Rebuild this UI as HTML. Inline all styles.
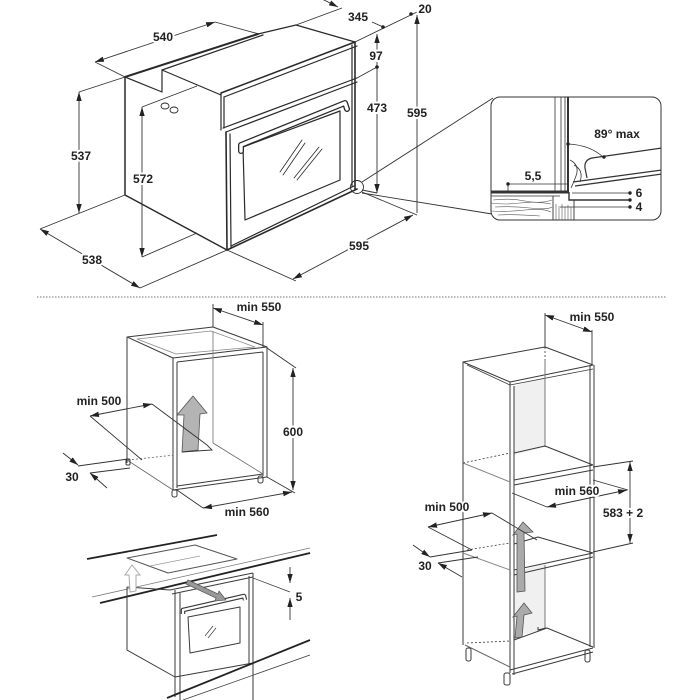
<!DOCTYPE html>
<html><head><meta charset="utf-8"><style>
html,body{margin:0;padding:0;background:#fff;}
svg{display:block;}
.t{font-family:"Liberation Sans",sans-serif;font-weight:bold;font-size:12px;fill:#222;text-anchor:middle;dominant-baseline:central;}
.h{stroke:#fff;stroke-width:4px;paint-order:stroke;stroke-linejoin:round;}
</style></head><body>
<svg width="700" height="700" viewBox="0 0 700 700" xmlns="http://www.w3.org/2000/svg">
<defs>
<marker id="ar" viewBox="0 0 10 6" refX="10" refY="3" markerWidth="9" markerHeight="5.5" markerUnits="userSpaceOnUse" orient="auto-start-reverse"><path d="M0,0L10,3L0,6z" fill="#222"/></marker>
<clipPath id="cb"><rect x="491" y="97" width="170" height="123" rx="9"/></clipPath>
</defs>
<rect width="700" height="700" fill="#fff"/>

<!-- ============ TOP: OVEN ============ -->
<g stroke="#2a2a2a" fill="none" stroke-width="1.2" stroke-linejoin="round" stroke-linecap="round">
 <path d="M125,77 L258,34" stroke-width="2"/>
 <path d="M162,70 L263,35"/>
 <path d="M258,34 L296,25 L355,42"/>
 <path d="M125,77 L162,92 L162,70 L221,95"/>
 <path d="M125,77 V195 L227,250" stroke-width="1.5"/>
 <!-- front panel -->
 <path d="M221,93 L355,42" stroke-width="1.6"/>
 <path d="M224,97 L357,46"/>
 <path d="M221,93 V130"/>
 <path d="M224,97 V128"/>
 <path d="M223,128 L357,78"/>
 <path d="M226,132 L357,82"/>
 <path d="M226,132 L227,250" stroke-width="1.6"/>
 <path d="M230,134 L231,247"/>
 <path d="M227,250 L357,189" stroke-width="1.6"/>
 <path d="M231,246 L354,186"/>
 <path d="M355,42 V189" stroke-width="1.6"/>
 <path d="M352,45 V186"/>
 <!-- window -->
 <path d="M243,147 L340,111 L340,180 L245,220 Z"/>
 <!-- reflections -->
 <g stroke-width="0.8"><path d="M280,172 L302,140"/><path d="M283,175 L305,143"/><path d="M294,178 L319,147"/><path d="M297,180 L322,149"/></g>
 <!-- handle -->
 <path d="M241,151 L241,145 L345,103 L347,109" stroke-width="6"/>
 <path d="M241,151 L241,145 L345,103 L347,109" stroke="#fff" stroke-width="3.4"/>
 <!-- vents -->
 <ellipse cx="165" cy="106" rx="4" ry="3" stroke-width="0.9"/>
 <ellipse cx="174" cy="110" rx="4" ry="3" stroke-width="0.9"/>
 <!-- small detail circle -->
 <circle cx="357" cy="187" r="6.5" stroke-width="0.9"/>
</g>

<!-- top dimensions -->
<g stroke="#333" fill="none" stroke-width="0.9">
 <!-- 540 -->
 <path d="M95,62 L215,22" marker-start="url(#ar)" marker-end="url(#ar)"/>
 <path d="M95,62 L125,77"/>
 <path d="M215,22 L259,34"/>
 <!-- 537 -->
 <path d="M79,92 V213" marker-start="url(#ar)" marker-end="url(#ar)"/>
 <path d="M79,92 L125,77"/>
 <!-- 538 -->
 <path d="M40,229 L125,195"/>
 <path d="M40,229 L140,288" marker-start="url(#ar)" marker-end="url(#ar)"/>
 <path d="M140,288 L227,250"/>
 <!-- 572 -->
 <path d="M142,107 V257" marker-start="url(#ar)" marker-end="url(#ar)"/>
 <path d="M142,107 L197,86"/>
 <path d="M142,257 L197,233"/>
 <!-- 595 bottom -->
 <path d="M227,250 L296,281"/>
 <path d="M293,279 L413,215" marker-start="url(#ar)" marker-end="url(#ar)"/>
 <path d="M362,192 L417,215"/>
 <!-- 595 vertical -->
 <path d="M417,15 V213" marker-start="url(#ar)"/>
 <!-- 20 / 345 -->
 <path d="M355,42 L417,12"/>
 <path d="M296,25 L342,8"/>
 <path d="M322,-1 L338,7" marker-end="url(#ar)"/>
 <path d="M372,22 L383,27"/>
 <!-- 97 / 473 -->
 <path d="M377,34 V193" marker-start="url(#ar)" marker-end="url(#ar)"/>
 <path d="M357,78 L377,67"/>
 <path d="M362,190 L377,193"/>
 <!-- leaders -->
 <path d="M362,182 L493,98"/>
 <path d="M362,193 L492,214"/>
</g>
<g fill="#222"><circle cx="383" cy="27" r="1.8"/><circle cx="411" cy="14" r="1.8"/><circle cx="377" cy="67" r="1.8"/></g>

<!-- detail box -->
<g clip-path="url(#cb)" fill="none" stroke="#333">
 <path d="M555,97 V192 M561,97 V192 M565,97 V192" stroke-width="0.8"/>
 <path d="M568,97 V192" stroke-width="2"/>
 <path d="M491,192 H569" stroke-width="3"/>
 <path d="M491,196 H560" stroke-width="0.8"/>
 <g stroke-width="0.6" stroke="#555">
  <path d="M493,200 Q510,198 525,201 T552,200"/>
  <path d="M491,203 Q505,205 520,203 T551,204"/>
  <path d="M495,207 Q512,206 530,208 T552,207"/>
  <path d="M491,211 Q508,212 525,210 T551,212"/>
  <path d="M498,215 Q515,214 540,216"/>
  <path d="M556,204 V220 M559,206 V220 M562,204 V220 M565,207 V220 M568,205 V220 M571,207 V220"/>
 </g>
 <path d="M553,196 V220 M574,200 V220" stroke-width="0.9"/>
 <path d="M569,192 V200 H630" stroke-width="1.4"/>
 <path d="M572,193 H630 M560,207 H630" stroke-width="0.8"/>
 <path d="M508,184 H568 M508,184 V192" stroke-width="0.8"/>
 <path d="M568,144 Q590,145 603,157" stroke-width="0.8"/>
 <!-- door -->
 <path d="M662,148 L592,158 Q584,160 585,168 L587,178" stroke-width="1.2"/>
 <path d="M573,182 L662,170" stroke-width="1.3"/>
 <path d="M575,186 L662,174" stroke-width="1.3"/>
 <path d="M570,160 Q580,165 576,176 Q573,184 571,188" stroke-width="0.8"/>
 <path d="M574,165 Q584,170 580,182" stroke-width="0.8"/>
</g>
<rect x="491" y="97" width="170" height="123" rx="9" fill="none" stroke="#333" stroke-width="1"/>
<g fill="#222"><circle cx="508" cy="184" r="1.7"/><circle cx="568" cy="144" r="1.7"/><circle cx="604" cy="157" r="1.7"/><circle cx="630" cy="193" r="1.7"/><circle cx="630" cy="200" r="1.7"/><circle cx="630" cy="207" r="1.7"/></g>

<!-- separator -->
<path d="M37,297 H667" stroke="#777" stroke-width="1" stroke-dasharray="1.5,1.5"/>

<!-- ============ BOTTOM-LEFT CABINET ============ -->
<g stroke="#3a3a3a" fill="none" stroke-width="1" stroke-linejoin="round">
 <path d="M127,337 L213,327 L267,347 L173,358 Z"/>
 <path d="M137,339 L211,331 L255,347 L176,354 Z" stroke="#888" stroke-width="0.7"/>
 <path d="M177,362 L263,352"/>
 <path d="M173,358 V490 M177,362 V488"/>
 <path d="M263,352 V476 M267,347 V477"/>
 <path d="M127,337 V463"/>
 <path d="M213,331 V443" stroke="#888"/>
 <path d="M173,490 L267,477 M177,486 L263,474"/>
 <path d="M127,460 L173,490" stroke="#666" stroke-width="0.8"/>
 <path d="M213,443 L263,474" stroke="#666" stroke-width="0.8"/>
 <path d="M128,460 L175,455" stroke="#666" stroke-width="0.8" stroke-dasharray="2,2"/>
 <rect x="126" y="459" width="4" height="6" rx="1"/>
 <rect x="172" y="490" width="5" height="7" rx="2"/>
 <rect x="258" y="476" width="5" height="7" rx="2"/>
</g>
<path d="M193,396 L177,415 L184,415 L182,452 L198,450 L200,414 L207,413 Z" fill="#b4b4b4" stroke="#555" stroke-width="0.8"/>
<g stroke="#333" fill="none" stroke-width="0.9">
 <!-- min 550 -->
 <path d="M213,304 V327 M263,322 V347"/>
 <path d="M213,308 L263,325" marker-start="url(#ar)" marker-end="url(#ar)"/>
 <!-- min 500 -->
 <path d="M90,416 L152,404" marker-start="url(#ar)" marker-end="url(#ar)"/>
 <path d="M152,404 L207,445 L212,450 L182,452"/>
 <path d="M90,416 L142,460"/>
 <!-- 30 -->
 <path d="M63,453 L78,465" marker-end="url(#ar)"/>
 <path d="M78,466 L128,459"/>
 <path d="M107,488 L90,473" marker-end="url(#ar)"/>
 <path d="M90,473 L130,468"/>
 <!-- 600 -->
 <path d="M267,348 L296,368"/>
 <path d="M293,368 V490" marker-start="url(#ar)" marker-end="url(#ar)"/>
 <!-- min 560 -->
 <path d="M177,490 L203,508 M267,477 L295,493"/>
 <path d="M203,508 L292,492" marker-start="url(#ar)" marker-end="url(#ar)"/>
</g>

<!-- ============ BOTTOM-LEFT BUILT-IN ============ -->
<g stroke="#3a3a3a" fill="none" stroke-width="1" stroke-linejoin="round">
 <path d="M87,559 L217,535" stroke-width="1.8" stroke="#222"/>
 <path d="M92,597 L310,548" stroke="#777" stroke-width="0.8"/>
 <path d="M100,603 L310,553" stroke-width="1.8" stroke="#222"/>
 <path d="M127,558 L195,545 L237,559 L168,573 Z" stroke="#555"/>
 <path d="M150,566 L200,556" stroke="#999" stroke-width="0.7"/>
 <path d="M127,587 L170,590"/>
 <path d="M127,587 V650 L175,677"/>
 <path d="M170,590 L253,573 M172,594 L253,577"/>
 <path d="M175,590 V697 M180,593 V700"/>
 <path d="M253,573 V700 M249,576 V664"/>
 <path d="M175,677 L253,663"/>
 <path d="M167,698 L310,640" stroke-width="1.8" stroke="#222"/>
 <path d="M183,700 L310,655" stroke-width="0.8"/>
 <path d="M253,578 L290,592" stroke-width="0.8"/>
 <path d="M188,617 L240,607 L240,643 L190,653 Z"/>
 <path d="M205,636 L213,626 M208,638 L216,628" stroke-width="0.7"/>
 <path d="M183,614 L183,610 L244,596 L245,600" stroke-width="4.5"/>
 <path d="M183,614 L183,610 L244,596 L245,600" stroke="#fff" stroke-width="2.2"/>
</g>
<path d="M132,565 L125,575 L129,575 L130,592 L136,591 L136,575 L140,575 Z" fill="#fff" stroke="#aaa" stroke-width="1"/>
<path d="M188,580 L218,594 L219,591 L226,600 L215,601 L216,598 L186,584 Z" fill="#999" stroke="#555" stroke-width="0.7"/>
<g stroke="#333" fill="none" stroke-width="0.9">
 <path d="M290,567 V583" marker-end="url(#ar)"/>
 <path d="M290,620 V598" marker-end="url(#ar)"/>
</g>

<!-- ============ RIGHT TALL CABINET ============ -->
<path d="M514,386 L545,377 L545,447 L514,455 Z" fill="#f0f0f0"/>
<path d="M514,572 L545,564 L545,628 L514,638 Z" fill="#f0f0f0"/>
<g stroke="#3a3a3a" fill="none" stroke-width="1" stroke-linejoin="round">
 <path d="M463,362 L545,347 L593,365 L510,382 Z"/>
 <path d="M467,365 L510,385 L593,369" stroke-width="0.8"/>
 <path d="M545,347 V360" stroke-dasharray="2,2" stroke-width="0.8"/>
 <path d="M510,382 V673 M514,386 V675"/>
 <path d="M590,366 V647 M594,365 V648"/>
 <path d="M463,362 V645"/>
 <path d="M545,360 V447 M545,565 V628" stroke="#777"/>
 <!-- upper shelf -->
 <path d="M463,463 L510,482" stroke="#888"/>
 <path d="M463,463 L510,453" stroke-dasharray="2,2" stroke-width="0.8"/>
 <path d="M514,453 L545,446 L593,465"/>
 <path d="M514,480 L593,465 M514,485 L593,470"/>
 <!-- lower shelf -->
 <path d="M463,553 L510,570" stroke="#888"/>
 <path d="M467,550 L510,543" stroke-dasharray="2,2" stroke-width="0.8"/>
 <path d="M514,544 L538,537 L593,553"/>
 <path d="M514,570 L593,553 M514,575 L593,557"/>
 <!-- bottom -->
 <path d="M467,643 L510,641" stroke-dasharray="2,2" stroke-width="0.8"/>
 <path d="M514,640 L547,628 L593,647"/>
 <path d="M538,627 L538,630 L546,628"/>
 <path d="M465,645 L510,667" stroke="#666"/>
 <path d="M510,670 L593,648 M512,674 L593,652"/>
 <rect x="466" y="648" width="5" height="13" rx="2"/>
 <rect x="504" y="673" width="6" height="12" rx="2"/>
 <rect x="585" y="650" width="5" height="12" rx="2"/>
</g>
<path d="M523,522 L513,535 L517,534 L517,592 L525,591 L524,533 L533,532 Z" fill="#aaa" stroke="#555" stroke-width="0.8"/>
<path d="M524,603 L513,617 L517,616 L515,638 L522,637 L524,615 L532,613 Z" fill="#aaa" stroke="#555" stroke-width="0.8"/>
<g stroke="#333" fill="none" stroke-width="0.9">
 <!-- min 550 -->
 <path d="M545,313 V347 M592,330 V365"/>
 <path d="M545,315 L592,332" marker-start="url(#ar)" marker-end="url(#ar)"/>
 <!-- min 560 -->
 <path d="M512,493 L547,507 M593,480 L628,490"/>
 <path d="M547,507 L627,490" marker-start="url(#ar)" marker-end="url(#ar)"/>
 <!-- 583 + 2 -->
 <path d="M593,467 L633,461 M593,552 L633,543"/>
 <path d="M630,462 V543" marker-start="url(#ar)" marker-end="url(#ar)"/>
 <!-- min 500 -->
 <path d="M428,527 L492,513" marker-start="url(#ar)" marker-end="url(#ar)"/>
 <path d="M492,513 L537,540 M428,527 L472,550"/>
 <!-- 30 -->
 <path d="M413,545 L430,557" marker-end="url(#ar)"/>
 <path d="M430,557 L472,550"/>
 <path d="M462,577 L438,563" marker-end="url(#ar)"/>
 <path d="M438,563 L478,557"/>
</g>

<!-- ============ LABELS ============ -->
<text class="t h" x="163" y="37">540</text>
<text class="t h" x="81" y="156">537</text>
<text class="t h" x="143" y="179">572</text>
<text class="t h" x="92" y="260">538</text>
<text class="t h" x="358" y="17">345</text>
<text class="t h" x="425" y="9">20</text>
<text class="t h" x="376" y="56">97</text>
<text class="t h" x="377" y="108">473</text>
<text class="t h" x="417" y="113">595</text>
<text class="t h" x="359" y="246">595</text>
<text class="t" x="617" y="134">89° max</text>
<text class="t" x="533" y="176">5,5</text>
<text class="t" x="639" y="193">6</text>
<text class="t" x="639" y="207">4</text>
<text class="t h" x="259" y="307">min 550</text>
<text class="t h" x="99" y="401">min 500</text>
<text class="t h" x="293" y="432">600</text>
<text class="t" x="72" y="477">30</text>
<text class="t h" x="247" y="512">min 560</text>
<text class="t" x="299" y="597">5</text>
<text class="t h" x="592" y="317">min 550</text>
<text class="t h" x="577" y="491">min 560</text>
<text class="t h" x="623" y="513">583 + 2</text>
<text class="t h" x="447" y="507">min 500</text>
<text class="t" x="425" y="566">30</text>
</svg>
</body></html>
